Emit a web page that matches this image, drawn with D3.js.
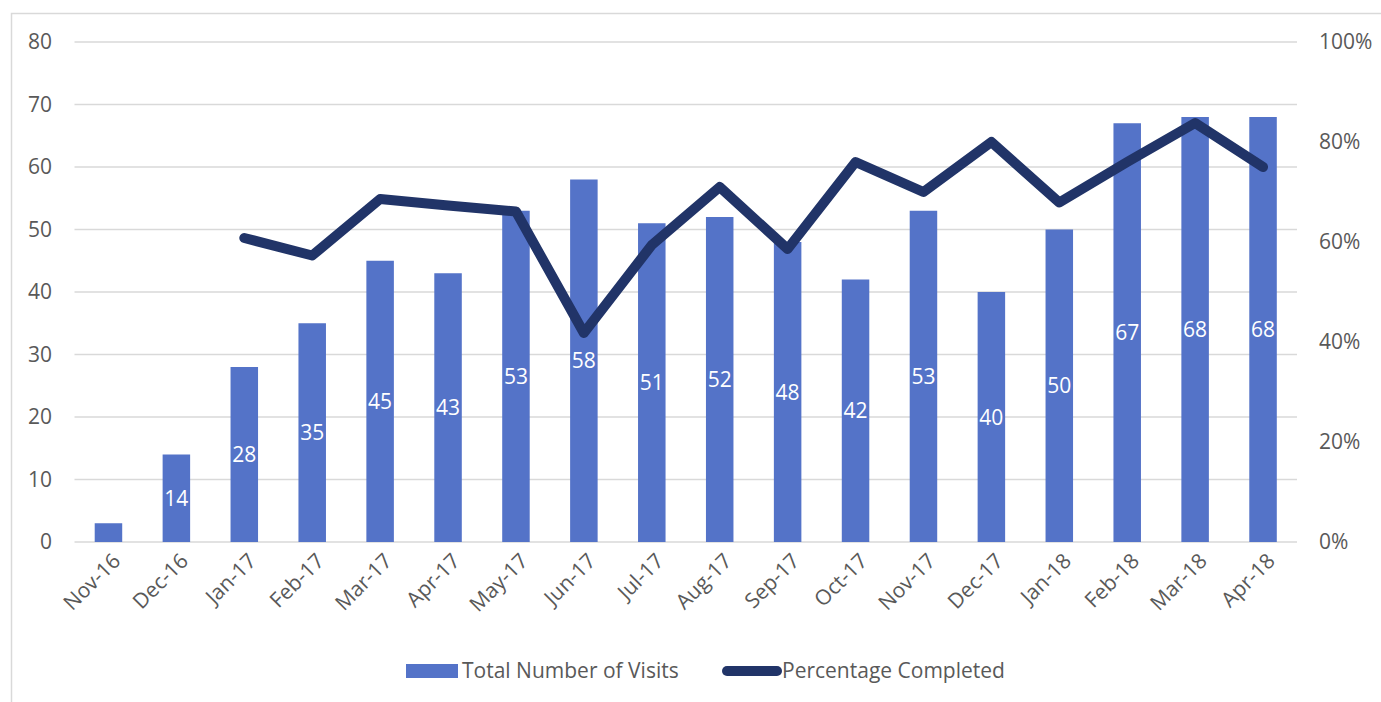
<!DOCTYPE html>
<html>
<head>
<meta charset="utf-8">
<script src="https://cdn.jsdelivr.net/npm/d3@7"></script>
<style>
  body { margin: 0; background: #fff; }
  text { font-family: "Open Sans", sans-serif; fill: #595959; }
</style>
</head>
<body>
<svg id="chart" width="1381" height="702"></svg>
<script>
// data
var months = ["Nov-16", "Dec-16", "Jan-17", "Feb-17", "Mar-17", "Apr-17", "May-17", "Jun-17", "Jul-17",
    "Aug-17", "Sep-17", "Oct-17", "Nov-17", "Dec-17", "Jan-18", "Feb-18", "Mar-18", "Apr-18"];
var visits = [3, 14, 28, 35, 45, 43, 53, 58, 51, 52, 48, 42, 53, 40, 50, 67, 68, 68];
var completed = [null, null, 60.8, 57.3, 68.6, 67.3, 66.1, 41.8, 59.4, 71, 58.6, 76, 70, 80, 67.9, 76, 83.8, 75];
var leftTicks = [0, 10, 20, 30, 40, 50, 60, 70, 80];
var rightTicks = [0, 20, 40, 60, 80, 100];

var svg = d3.select("#chart"),
    width = +svg.attr("width"),
    height = +svg.attr("height");

var barColor = "#5473c8",
    lineColor = "#213468",
    gridColor = "#d9d9d9";

// outer frame of the chart
svg.append("rect")
    .attr("x", 11.5).attr("y", 13.5)
    .attr("width", width + 20).attr("height", height + 20)
    .attr("fill", "none")
    .attr("stroke", gridColor)
    .attr("stroke-width", 1.5);

var x = d3.scaleBand()
    .domain(months)
    .range([74.5, 1297])
    .paddingInner(0.595)
    .paddingOuter(0.2975);

var y = d3.scaleLinear().domain([0, 80]).range([542, 42]);
var yPct = d3.scaleLinear().domain([0, 100]).range([542, 42]);

// gridlines
svg.append("g")
    .selectAll("line")
    .data(leftTicks).enter()
    .append("line")
    .attr("x1", 74.5).attr("x2", 1297)
    .attr("y1", function(d) { return y(d); })
    .attr("y2", function(d) { return y(d); })
    .attr("stroke", gridColor)
    .attr("stroke-width", 1.5);

// left axis
var leftAxis = svg.append("g")
    .attr("transform", "translate(52,0)")
    .call(d3.axisLeft(y).tickValues(leftTicks).tickSize(0).tickPadding(0));
leftAxis.select(".domain").remove();
leftAxis.selectAll("text")
    .attr("font-size", 21)
    .attr("font-family", "Open Sans")
    .attr("fill", "#595959");

// right axis
var rightAxis = svg.append("g")
    .attr("transform", "translate(1319,0)")
    .call(d3.axisRight(yPct).tickValues(rightTicks).tickSize(0).tickPadding(0)
        .tickFormat(function(d) { return d + "%"; }));
rightAxis.select(".domain").remove();
rightAxis.selectAll("text")
    .attr("font-size", 21)
    .attr("font-family", "Open Sans")
    .attr("fill", "#595959");

// bars
svg.append("g")
    .selectAll("rect")
    .data(visits).enter()
    .append("rect")
    .attr("x", function(d, i) { return x(months[i]); })
    .attr("y", function(d) { return y(d); })
    .attr("width", x.bandwidth())
    .attr("height", function(d) { return y(0) - y(d); })
    .attr("fill", barColor);

// bar labels (the one for Nov-16 is too small to show)
svg.append("g")
    .selectAll("text")
    .data(visits).enter()
    .append("text")
    .attr("x", function(d, i) { return x(months[i]) + x.bandwidth() / 2; })
    .attr("y", function(d) { return (y(d) + y(0)) / 2; })
    .attr("dy", "0.36em")
    .attr("text-anchor", "middle")
    .attr("font-size", 21)
    .style("fill", "#fff")
    .text(function(d) { return d > 5 ? d : ""; });

// x axis labels
svg.append("g")
    .selectAll("text")
    .data(months).enter()
    .append("text")
    .attr("transform", function(d) {
        return "translate(" + (x(d) + x.bandwidth() / 2 + 8) + ",557) rotate(-45)";
    })
    .attr("text-anchor", "end")
    .attr("dy", "0.35em")
    .attr("font-size", 21)
    .text(function(d) { return d; });

// percentage line
var line = d3.line()
    .defined(function(d) { return d != null; })
    .x(function(d, i) { return x(months[i]) + x.bandwidth() / 2; })
    .y(function(d) { return yPct(d); });

svg.append("path")
    .datum(completed)
    .attr("d", line)
    .attr("fill", "none")
    .attr("stroke", lineColor)
    .attr("stroke-width", 10)
    .attr("stroke-linejoin", "round")
    .attr("stroke-linecap", "round");

// legend
var legend = svg.append("g");
legend.append("rect")
    .attr("x", 406).attr("y", 664)
    .attr("width", 52).attr("height", 14)
    .attr("fill", barColor);
legend.append("text")
    .attr("x", 462).attr("y", 671)
    .attr("dy", "0.35em")
    .attr("font-size", 21)
    .text("Total Number of Visits");
legend.append("line")
    .attr("x1", 727).attr("x2", 777)
    .attr("y1", 671).attr("y2", 671)
    .attr("stroke", lineColor)
    .attr("stroke-width", 10)
    .attr("stroke-linecap", "round");
legend.append("text")
    .attr("x", 782).attr("y", 671)
    .attr("dy", "0.35em")
    .attr("font-size", 21)
    .text("Percentage Completed");
</script>
</body>
</html>
